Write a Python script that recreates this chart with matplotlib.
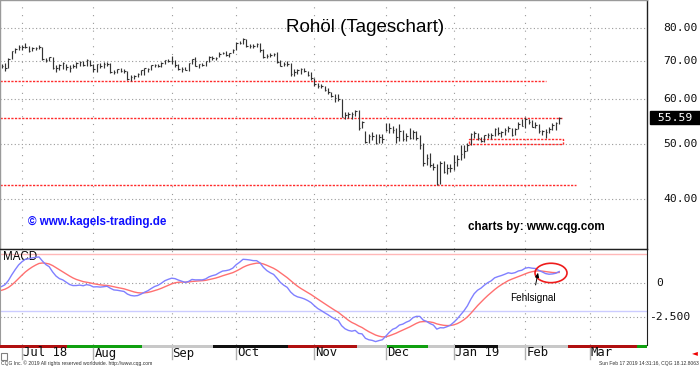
import numpy as np
import pandas as pd
import matplotlib
matplotlib.use("Agg")
import matplotlib.pyplot as plt
from matplotlib.patches import Ellipse, Rectangle
from matplotlib.transforms import blended_transform_factory

# ---------------- data ----------------
first_day = "2018-06-22"
holidays = ["2018-07-04", "2018-09-03", "2018-11-22", "2018-12-25",
            "2019-01-01", "2019-01-21", "2019-02-18"]

high = [69.20, 69.50, 70.70, 72.90, 73.60, 74.50,
        74.60, 75.30, 74.20, 73.90, 74.10, 74.70, 74.10, 70.90, 71.20, 71.00, 68.80, 69.20, 69.70, 69.00, 68.90, 69.00, 69.60, 69.90, 70.00, 70.40, 70.20,
        69.20, 69.10, 69.40, 69.60, 69.70, 69.30, 67.40, 67.80, 68.00, 67.70, 67.20, 66.00, 66.10, 66.60, 67.50, 67.90, 68.00, 68.80, 69.10, 69.20, 69.70, 70.30, 70.40,
        71.40, 70.10, 69.20, 68.20, 68.30, 69.40, 70.60, 71.20, 69.10, 69.30, 70.00, 71.30, 71.40, 71.10, 72.60, 72.60, 72.80, 72.30, 73.40,
        75.40, 75.90, 76.90, 76.50, 74.80, 74.90, 75.20, 75.20, 73.30, 71.90, 72.20, 72.30, 72.40, 70.10, 69.60, 69.80, 69.30, 67.80, 67.60, 67.90, 68.00, 67.30, 66.90,
        65.40, 64.00, 63.70, 63.30, 62.60, 61.80, 61.30, 61.30, 60.00, 57.00, 57.00, 57.00, 57.30, 57.30, 54.90, 52.60, 52.00, 52.50, 52.00, 52.00, 52.00,
        54.50, 54.50, 53.80, 53.30, 54.20, 53.00, 52.20, 53.30, 53.00, 52.80, 51.90, 50.20, 48.10, 48.20, 46.30, 46.20, 46.60, 46.70, 46.20, 46.20,
        47.80, 47.90, 49.80, 49.80, 50.30, 52.30, 52.60, 52.30, 51.50, 51.90, 52.30, 52.20, 53.30, 53.50, 52.80, 53.30, 53.80, 53.40, 53.40, 54.60, 55.40,
        55.70, 55.40, 55.10, 54.60, 54.20, 53.00, 53.20, 53.60, 54.50, 54.60, 55.75]

low = [67.90, 67.30, 67.90, 70.40, 72.10, 73.10,
       73.10, 73.70, 72.60, 72.80, 73.10, 73.40, 70.10, 69.60, 69.90, 67.70, 67.00, 67.50, 67.80, 67.40, 67.00, 67.90, 68.00, 68.60, 68.40, 68.50, 68.50,
       66.90, 66.90, 68.10, 68.10, 68.60, 66.70, 66.30, 66.60, 66.80, 66.60, 64.80, 64.40, 64.90, 65.50, 66.00, 66.20, 66.80, 67.50, 68.30, 68.20, 68.20, 69.20, 69.60,
       69.20, 68.20, 67.50, 66.90, 67.40, 67.10, 69.20, 68.50, 68.00, 68.40, 68.60, 69.60, 70.20, 70.10, 71.00, 71.80, 71.30, 71.20, 72.10,
       73.10, 74.80, 75.00, 74.00, 73.60, 73.60, 74.10, 72.60, 70.80, 70.70, 71.00, 71.40, 69.50, 68.50, 68.50, 68.60, 65.70, 65.70, 66.40, 66.30, 66.80, 65.90, 64.80,
       63.30, 62.80, 62.60, 61.90, 61.30, 60.50, 59.30, 59.60, 55.70, 55.30, 55.50, 55.30, 55.90, 53.00, 53.40, 50.20, 50.10, 50.90, 50.00, 50.20, 50.20,
       52.60, 52.20, 52.30, 50.10, 50.60, 50.60, 50.70, 51.10, 51.10, 50.90, 49.00, 45.80, 46.00, 45.50, 45.00, 42.40, 42.60, 44.40, 44.30, 44.60,
       45.00, 45.70, 46.80, 47.30, 48.60, 49.80, 51.20, 50.80, 50.40, 50.50, 51.30, 51.10, 51.60, 51.80, 51.50, 51.90, 52.50, 51.60, 51.80, 53.10, 53.80,
       53.30, 54.20, 53.50, 53.30, 52.20, 51.90, 51.20, 52.30, 53.00, 52.90, 54.30]

close = [68.58, 68.08, 70.53, 72.76, 73.45, 74.15,
         73.94, 74.14, 72.94, 73.80, 73.85, 74.11, 70.38, 70.33, 71.01, 68.06, 68.08, 68.76, 69.46, 68.30, 67.89, 68.52, 69.30, 69.61, 68.69, 70.13, 68.76,
         67.66, 68.96, 68.49, 69.01, 69.17, 66.94, 66.81, 67.63, 67.20, 67.04, 65.01, 65.46, 65.91, 66.43, 67.35, 67.86, 67.83, 68.72, 68.87, 68.53, 69.51, 70.25, 69.80,
         69.87, 68.72, 67.77, 67.75, 67.54, 69.25, 70.37, 68.59, 68.99, 68.91, 69.85, 71.12, 70.80, 70.78, 72.08, 72.28, 71.57, 72.12, 73.25,
         75.30, 75.23, 76.41, 74.33, 74.34, 74.29, 74.96, 73.17, 70.97, 71.34, 71.78, 71.92, 69.75, 68.65, 69.12, 69.17, 66.43, 66.82, 67.33, 67.59, 67.04, 66.18, 65.31,
         63.69, 63.14, 63.10, 62.21, 61.67, 60.67, 60.19, 59.93, 55.69, 56.25, 56.46, 56.46, 57.20, 53.43, 54.63, 50.42, 51.63, 51.56, 50.29, 51.45, 50.93,
         52.95, 53.25, 52.89, 51.49, 52.61, 51.00, 51.65, 51.15, 52.58, 51.20, 49.88, 46.24, 47.20, 45.88, 45.59, 42.53, 46.22, 44.61, 45.33, 45.41,
         46.54, 47.09, 47.96, 48.52, 49.78, 52.00, 52.20, 51.30, 50.60, 51.80, 51.90, 51.80, 53.20, 52.30, 52.40, 52.90, 53.40, 51.90, 53.10, 54.23, 53.79,
         55.26, 54.56, 53.66, 54.01, 52.64, 52.72, 52.41, 53.10, 53.90, 54.41, 55.59]

last_price = "55.59"
price_ticks = [80, 70, 60, 50, 40]
price_labels = ["80.00", "70.00", "60.00", "50.00", "40.00"]

month_starts = ["2018-07", "2018-08", "2018-09", "2018-10", "2018-11",
                "2018-12", "2019-01", "2019-02", "2019-03"]
month_labels = ["Jul 18", "Aug", "Sep", "Oct", "Nov", "Dec", "Jan 19", "Feb", "Mar"]

# horizontal red marker lines: price level and last date they reach
level_prices = [64.45, 55.59, 42.36]
level_ends = ["2019-02-11", "2019-02-18", "2019-02-25"]
box_low, box_high = 50.0, 51.1
box_start, box_end = "2019-01-09", "2019-02-18"

# MACD (12, 26, 9) state before the first bar (read from the left edge)
seed_ema12, seed_ema26, seed_signal = 66.30, 66.80, -0.62
macd_ticks = [0, -2.5]
macd_labels = ["0", "-2.500"]
macd_bands = [2.05, -2.05]

# ---------------- calendar / positions ----------------
cal = pd.bdate_range(first_day, "2019-03-29")
cal = cal[~cal.isin(pd.to_datetime(holidays))]
origin = cal.get_loc(pd.Timestamp("2018-07-02"))
pos_all = np.arange(len(cal)) - origin
def pos_of(d):
    d = pd.Timestamp(d)
    idx = np.searchsorted(cal.values, np.datetime64(d))
    return pos_all[min(idx, len(cal) - 1)]

n = len(close)
x = pos_all[:n]
month_pos = [pos_of(m + "-01") for m in month_starts]

# ---------------- figure ----------------
W, H = 700, 367
fig = plt.figure(figsize=(7.0, 3.67), dpi=100)
fig.patch.set_facecolor("white")

PX = 3.4          # pixels per trading day
X0 = 22.0         # pixel of Jul 2
xlim = (-X0 / PX, (647 - X0) / PX)

ax = fig.add_axes([0, 1 - 249 / H, 647 / W, 249 / H])
ax2 = fig.add_axes([0, 1 - 345 / H, 647 / W, 96 / H])

mono = "DejaVu Sans Mono"
sans = "Liberation Sans"
gridc = "#9a9a9a"
red_ls = (0, (1.6, 1.0))

# ---- main price panel
ax.set_yscale("log")
ax.set_xlim(*xlim)
ax.set_ylim(32.7, 89.5)
ax.set_xticks([]); ax.set_yticks([])
ax.yaxis.set_minor_locator(matplotlib.ticker.NullLocator())
for s in ["top", "left"]:
    ax.spines[s].set_color("#9a9a9a"); ax.spines[s].set_linewidth(1.0)
for s in ["right", "bottom"]:
    ax.spines[s].set_color("#202020"); ax.spines[s].set_linewidth(1.0)

for p in price_ticks:
    ax.axhline(p, color=gridc, lw=0.8, ls=(0, (1, 2.2)), zorder=1)
for mp in month_pos:
    ax.axvline(mp, color=gridc, lw=0.8, ls=(0, (1, 6)), zorder=1)
    ax2.axvline(mp, color=gridc, lw=0.8, ls=(0, (1, 6)), zorder=1)

barc = "#333333"
ax.vlines(x, low, high, color=barc, lw=0.85, zorder=3)
ax.hlines(close, x, x + 0.45, color=barc, lw=0.8, zorder=3)

redc = "#ff2a2a"
for lp, le in zip(level_prices, level_ends):
    ax.hlines(lp, xlim[0], pos_of(le), color=redc, lw=1.0, linestyles=[red_ls], zorder=2)
bx0, bx1 = pos_of(box_start) - 0.6, pos_of(box_end)
ax.add_patch(Rectangle((bx0, box_low), bx1 - bx0, box_high - box_low, fill=False,
                       edgecolor=redc, lw=1.0, ls=red_ls, zorder=2))

trans = blended_transform_factory(ax.transAxes, ax.transData)
for p, lab in zip(price_ticks, price_labels):
    ax.text(663 / 647, p, lab, transform=trans, ha="left", va="center",
            fontsize=8.2, family=mono, color="#101010", clip_on=False)
last_val = close[-1]
ax.text(651 / 647, last_val, " " + last_price + " ", transform=trans, ha="left", va="center",
        fontsize=8.2, family=mono, color="white", clip_on=False,
        bbox=dict(boxstyle="square,pad=0.12", fc="black", ec="black"))

fig.text(365.5 / W, 1 - 28 / H, "Rohöl (Tageschart)", ha="center", va="center",
         fontsize=13.5, family=sans, color="black")
fig.text(28 / W, 1 - 222 / H, "© www.kagels-trading.de", ha="left", va="center",
         fontsize=8.4, family=sans, fontweight="bold", color="#1010ff")
fig.text(468 / W, 1 - 227 / H, "charts by: www.cqg.com", ha="left", va="center",
         fontsize=8.4, family=sans, fontweight="bold", color="black")

# ---- MACD panel
a12, a26, a9 = 2 / 13, 2 / 27, 2 / 10
e12, e26, sg = seed_ema12, seed_ema26, seed_signal
macd, signal = [], []
for c in close:
    e12 += a12 * (c - e12)
    e26 += a26 * (c - e26)
    m = e12 - e26
    sg += a9 * (m - sg)
    macd.append(m); signal.append(sg)

ax2.set_xlim(*xlim)
ax2.set_ylim(-4.50, 2.43)
ax2.set_xticks([]); ax2.set_yticks([])
ax2.spines["left"].set_color("#9a9a9a")
ax2.spines["right"].set_color("#202020")
ax2.spines["top"].set_color("#202020")
ax2.spines["bottom"].set_visible(False)
ax2.set_facecolor("none")
for t in macd_ticks:
    ax2.axhline(t, color=gridc, lw=0.8, ls=(0, (1, 2.2)), zorder=1)
ax2.axhline(macd_bands[0], color="#ffb8b8", lw=1.0, zorder=1)
ax2.axhline(macd_bands[1], color="#ccccff", lw=1.0, zorder=1)
ax2.plot(x, signal, color="#ff7070", lw=1.0, zorder=3)
ax2.plot(x, macd, color="#8080ff", lw=1.0, zorder=4)

trans2 = blended_transform_factory(ax2.transAxes, ax2.transData)
ax2.text(656 / 647, macd_ticks[0], macd_labels[0], transform=trans2, ha="left", va="center",
         fontsize=8.2, family=mono, color="#101010", clip_on=False)
ax2.text(649 / 647, macd_ticks[1], macd_labels[1], transform=trans2, ha="left", va="center",
         fontsize=8.2, family=mono, color="#101010", clip_on=False)
ax2.text(3 / 647, 0.92, "MACD", transform=ax2.transAxes, ha="left", va="center",
         fontsize=8.3, family=sans, color="black")

# false-signal annotation
ell_c = ((551 - X0) / PX, 0.70)
ax2.add_patch(Ellipse(ell_c, 32 / PX, 1.40, fill=False, edgecolor="#ee1c1c", lw=1.2, zorder=5))
ax2.annotate("Fehlsignal", xy=((538 - X0) / PX, 0.72), xytext=((533 - X0) / PX, -1.12),
             ha="center", va="center", fontsize=7.2, family=sans, color="black",
             arrowprops=dict(arrowstyle="-|>,head_length=0.35,head_width=0.15",
                             color="black", lw=0.7, shrinkA=4, shrinkB=0), zorder=6)

# ---- bottom strip, month labels, footer
strip = [(0, 67, "#b01010"), (67, 142, "#10a010"), (142, 213, "#c8c8c8"),
         (213, 288, "#101010"), (288, 357, "#b01010"), (357, 387, "#c8c8c8"),
         (387, 428, "#10a010"), (428, 455, "#c8c8c8"), (455, 498, "#101010"),
         (498, 568, "#c8c8c8"), (568, 637, "#b01010"), (637, 647, "#10a010")]
for a, b, col in strip:
    fig.add_artist(Rectangle((a / W, 1 - 347.5 / H), (b - a) / W, 2.5 / H,
                             transform=fig.transFigure, color=col, lw=0))

for mp, lab in zip(month_pos, month_labels):
    px = X0 + PX * mp
    fig.add_artist(plt.Line2D([px / W, px / W], [1 - 347.5 / H, 1 - 359 / H],
                              transform=fig.transFigure, color="#b0b0b0", lw=1.0))
    fig.text((px + 1) / W, 1 - 353 / H, lab, ha="left", va="center",
             fontsize=8.8, family=mono, color="#101010")

fig.add_artist(Rectangle((0.5 / W, 1 - 359.5 / H), 6 / W, 7 / H, transform=fig.transFigure,
                         fill=False, edgecolor="#808080", lw=0.8))
fig.text(695 / W, 1 - 353 / H, "◄", ha="center", va="center", fontsize=5.5,
         family="DejaVu Sans", color="#ee0000")
fig.text(1 / W, 1 - 363.5 / H, "CQG Inc. © 2019 All rights reserved worldwide. http://www.cqg.com",
         ha="left", va="center", fontsize=3.6, family=sans, color="#303030")
fig.text(699 / W, 1 - 363.5 / H, "Sun Feb 17 2019 14:31:16, CQG 18.12.8063",
         ha="right", va="center", fontsize=3.6, family=sans, color="#303030")

fig.savefig("out.png", dpi=100, facecolor="white")
